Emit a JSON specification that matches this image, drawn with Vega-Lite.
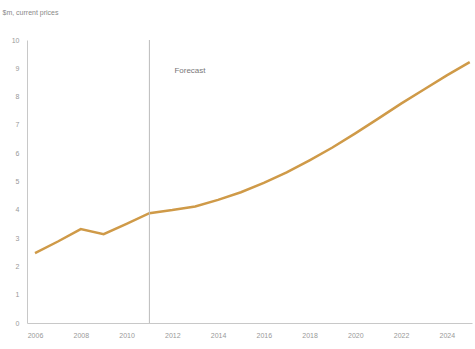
{
  "$schema": "https://vega.github.io/schema/vega-lite/v6.json",
  "autosize": "none",
  "width": 445,
  "height": 283,
  "padding": {"left": 27, "top": 40, "right": 3, "bottom": 26},
  "background": "white",
  "config": {"view": {"stroke": null}, "font": "Liberation Sans"},
  "data": {"values": [
    {"year": 2006, "value": 2.47},
    {"year": 2007, "value": 2.88},
    {"year": 2008, "value": 3.32},
    {"year": 2009, "value": 3.14},
    {"year": 2010, "value": 3.5},
    {"year": 2011, "value": 3.88},
    {"year": 2012, "value": 3.99},
    {"year": 2013, "value": 4.12},
    {"year": 2014, "value": 4.35},
    {"year": 2015, "value": 4.62},
    {"year": 2016, "value": 4.95},
    {"year": 2017, "value": 5.32},
    {"year": 2018, "value": 5.75},
    {"year": 2019, "value": 6.2},
    {"year": 2020, "value": 6.7},
    {"year": 2021, "value": 7.22},
    {"year": 2022, "value": 7.75},
    {"year": 2023, "value": 8.25},
    {"year": 2024, "value": 8.75},
    {"year": 2025, "value": 9.22}
  ]},
  "layer": [
    {
      "mark": {"type": "line", "color": "#cf9a48", "strokeWidth": 2.5},
      "encoding": {
        "x": {
          "field": "year", "type": "quantitative",
          "scale": {"domain": [2005.65, 2025.1], "nice": false, "zero": false},
          "axis": {
            "values": [2006, 2008, 2010, 2012, 2014, 2016, 2018, 2020, 2022, 2024],
            "format": "d", "title": null, "grid": false, "ticks": false, "labelOverlap": false,
            "domainColor": "#c8c8c8", "labelColor": "#999999", "labelFontSize": 7, "labelPadding": 8
          }
        },
        "y": {
          "field": "value", "type": "quantitative",
          "scale": {"domain": [0, 10], "nice": false},
          "axis": {
            "values": [0, 1, 2, 3, 4, 5, 6, 7, 8, 9, 10],
            "title": "$m, current prices", "titleAngle": 0, "titleX": -25, "titleY": -28,
            "titleAlign": "left", "titleBaseline": "middle", "titleFontSize": 7, "titleFontWeight": "normal", "titleColor": "#888888",
            "grid": false, "ticks": false, "labelOverlap": false, "domainColor": "#c8c8c8", "labelColor": "#999999", "labelFontSize": 7, "labelPadding": 8
          }
        }
      }
    },
    {
      "data": {"values": [{"year": 2011, "label": "Forecast", "pos": 8.9}]},
      "mark": {"type": "rule", "color": "#bbbbbb", "strokeWidth": 1},
      "encoding": {
        "x": {
          "field": "year", "type": "quantitative",
          "axis": {
            "values": [2006, 2008, 2010, 2012, 2014, 2016, 2018, 2020, 2022, 2024],
            "format": "d", "title": null, "grid": false, "ticks": false, "labelOverlap": false,
            "domainColor": "#c8c8c8", "labelColor": "#999999", "labelFontSize": 7, "labelPadding": 8
          }
        }
      }
    },
    {
      "data": {"values": [{"year": 2011, "label": "Forecast", "pos": 8.9}]},
      "mark": {"type": "text", "align": "left", "baseline": "middle", "dx": 25, "fontSize": 8, "color": "#777777"},
      "encoding": {
        "x": {
          "field": "year", "type": "quantitative",
          "axis": {
            "values": [2006, 2008, 2010, 2012, 2014, 2016, 2018, 2020, 2022, 2024],
            "format": "d", "title": null, "grid": false, "ticks": false, "labelOverlap": false,
            "domainColor": "#c8c8c8", "labelColor": "#999999", "labelFontSize": 7, "labelPadding": 8
          }
        },
        "y": {
          "field": "pos", "type": "quantitative",
          "axis": {
            "values": [0, 1, 2, 3, 4, 5, 6, 7, 8, 9, 10],
            "title": "$m, current prices", "titleAngle": 0, "titleX": -25, "titleY": -28,
            "titleAlign": "left", "titleBaseline": "middle", "titleFontSize": 7, "titleFontWeight": "normal", "titleColor": "#888888",
            "grid": false, "ticks": false, "labelOverlap": false, "domainColor": "#c8c8c8", "labelColor": "#999999", "labelFontSize": 7, "labelPadding": 8
          }
        },
        "text": {"field": "label"}
      }
    }
  ]
}
